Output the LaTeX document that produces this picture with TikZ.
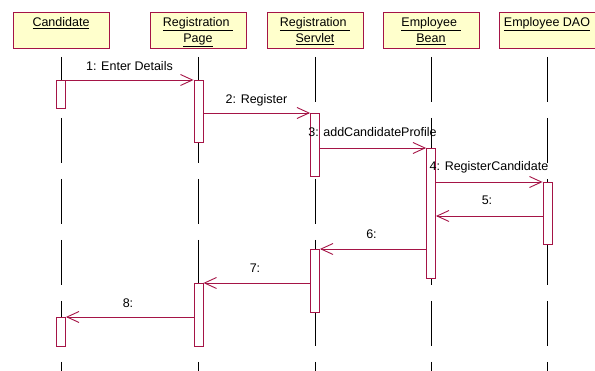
\documentclass[tikz,border=0pt]{standalone}
\usepackage{fontspec}
\setmainfont{Liberation Sans}
\usetikzlibrary{arrows.meta}
\definecolor{crim}{RGB}{165,20,70}
\definecolor{hdrfill}{RGB}{255,255,204}
\begin{document}
\begin{tikzpicture}[x=1pt,y=-1pt,
  hdr/.style={draw=crim, fill=hdrfill, line width=1pt, minimum width=96pt, minimum height=36pt, anchor=north, inner sep=0pt},
  hdrtext/.style={anchor=north, align=center, font=\fontsize{12.5}{16}\selectfont, inner sep=0pt},
  life/.style={line width=0.9pt, dash pattern=on 45pt off 16pt},
  act/.style={draw=crim, fill=white, line width=0.9pt, minimum width=9pt, anchor=north, inner sep=0pt},
  msg/.style={draw=crim, line width=0.9pt, -{Straight Barb[length=12pt,width=11pt]}},
  lbl/.style={font=\fontsize{12.5}{15}\selectfont, inner sep=0pt, anchor=base}]
\useasboundingbox (0,0) rectangle (595,371);
% headers
\node[hdr] (h1) at (61,12) {};
\node[hdr] (h2) at (198,12) {};
\node[hdr] (h3) at (315,12) {};
\node[hdr] (h4) at (431,12) {};
\node[hdr] (h5) at (547,12) {};
\node[hdrtext] (t1) at (61,17) {\underline{Candidate}};
\node[hdrtext] (t2) at (198,17) {\underline{Registration~}\\\underline{Page}};
\node[hdrtext] (t3) at (315,17) {\underline{Registration~}\\\underline{Servlet}};
\node[hdrtext] (t4) at (431,17) {\underline{Employee~}\\\underline{Bean}};
\node[hdrtext] (t5) at (547,17) {\underline{Employee DAO}};
% lifelines
\foreach \n/\x in {1/61,2/198.5,3/315,4/431,5/547.5}{
  \coordinate (lt\n) at (\x,57);
  \coordinate (lb\n) at (\x,371);
  \draw[life] (lt\n) -- (lb\n);
}
% activations
\node[act, minimum height=28pt] (a1) at (61,80) {};
\node[act, minimum height=62pt] (p1) at (198.5,80) {};
\node[act, minimum height=63pt] (s1) at (315,113) {};
\node[act, minimum height=130pt] (b1) at (431,148) {};
\node[act, minimum height=62pt] (d1) at (547.5,182) {};
\node[act, minimum height=63pt] (s2) at (315,249) {};
\node[act, minimum height=63pt] (p2) at (198.5,283) {};
\node[act, minimum height=29pt] (a2) at (61,317) {};
% messages
\coordinate (y5) at (0,216);
\draw[msg] (a1.north east) -- (p1.north west);
\draw[msg] (p1.east |- s1.north) -- (s1.north west);
\draw[msg] (s1.east |- b1.north) -- (b1.north west);
\draw[msg] (b1.east |- d1.north) -- (d1.north west);
\draw[msg] (d1.west |- y5) -- (b1.east |- y5);
\draw[msg] (b1.west |- s2.north) -- (s2.north east);
\draw[msg] (s2.west |- p2.north) -- (p2.north east);
\draw[msg] (p2.west |- a2.north) -- (a2.north east);
% labels
\node[lbl] (m1) at (129.5,70.5) {1: Enter Details};
\node[lbl] (m2) at (256.5,104) {2: Register};
\node[lbl] (m3) at (372.5,137) {3: addCandidateProfile};
\node[lbl] (m4) at (489,171) {4: RegisterCandidate};
\node[lbl] (m5) at (487,205) {5:};
\node[lbl] (m6) at (371.5,239) {6:};
\node[lbl] (m7) at (255,273) {7:};
\node[lbl] (m8) at (128,307.5) {8:};
\end{tikzpicture}
\end{document}
